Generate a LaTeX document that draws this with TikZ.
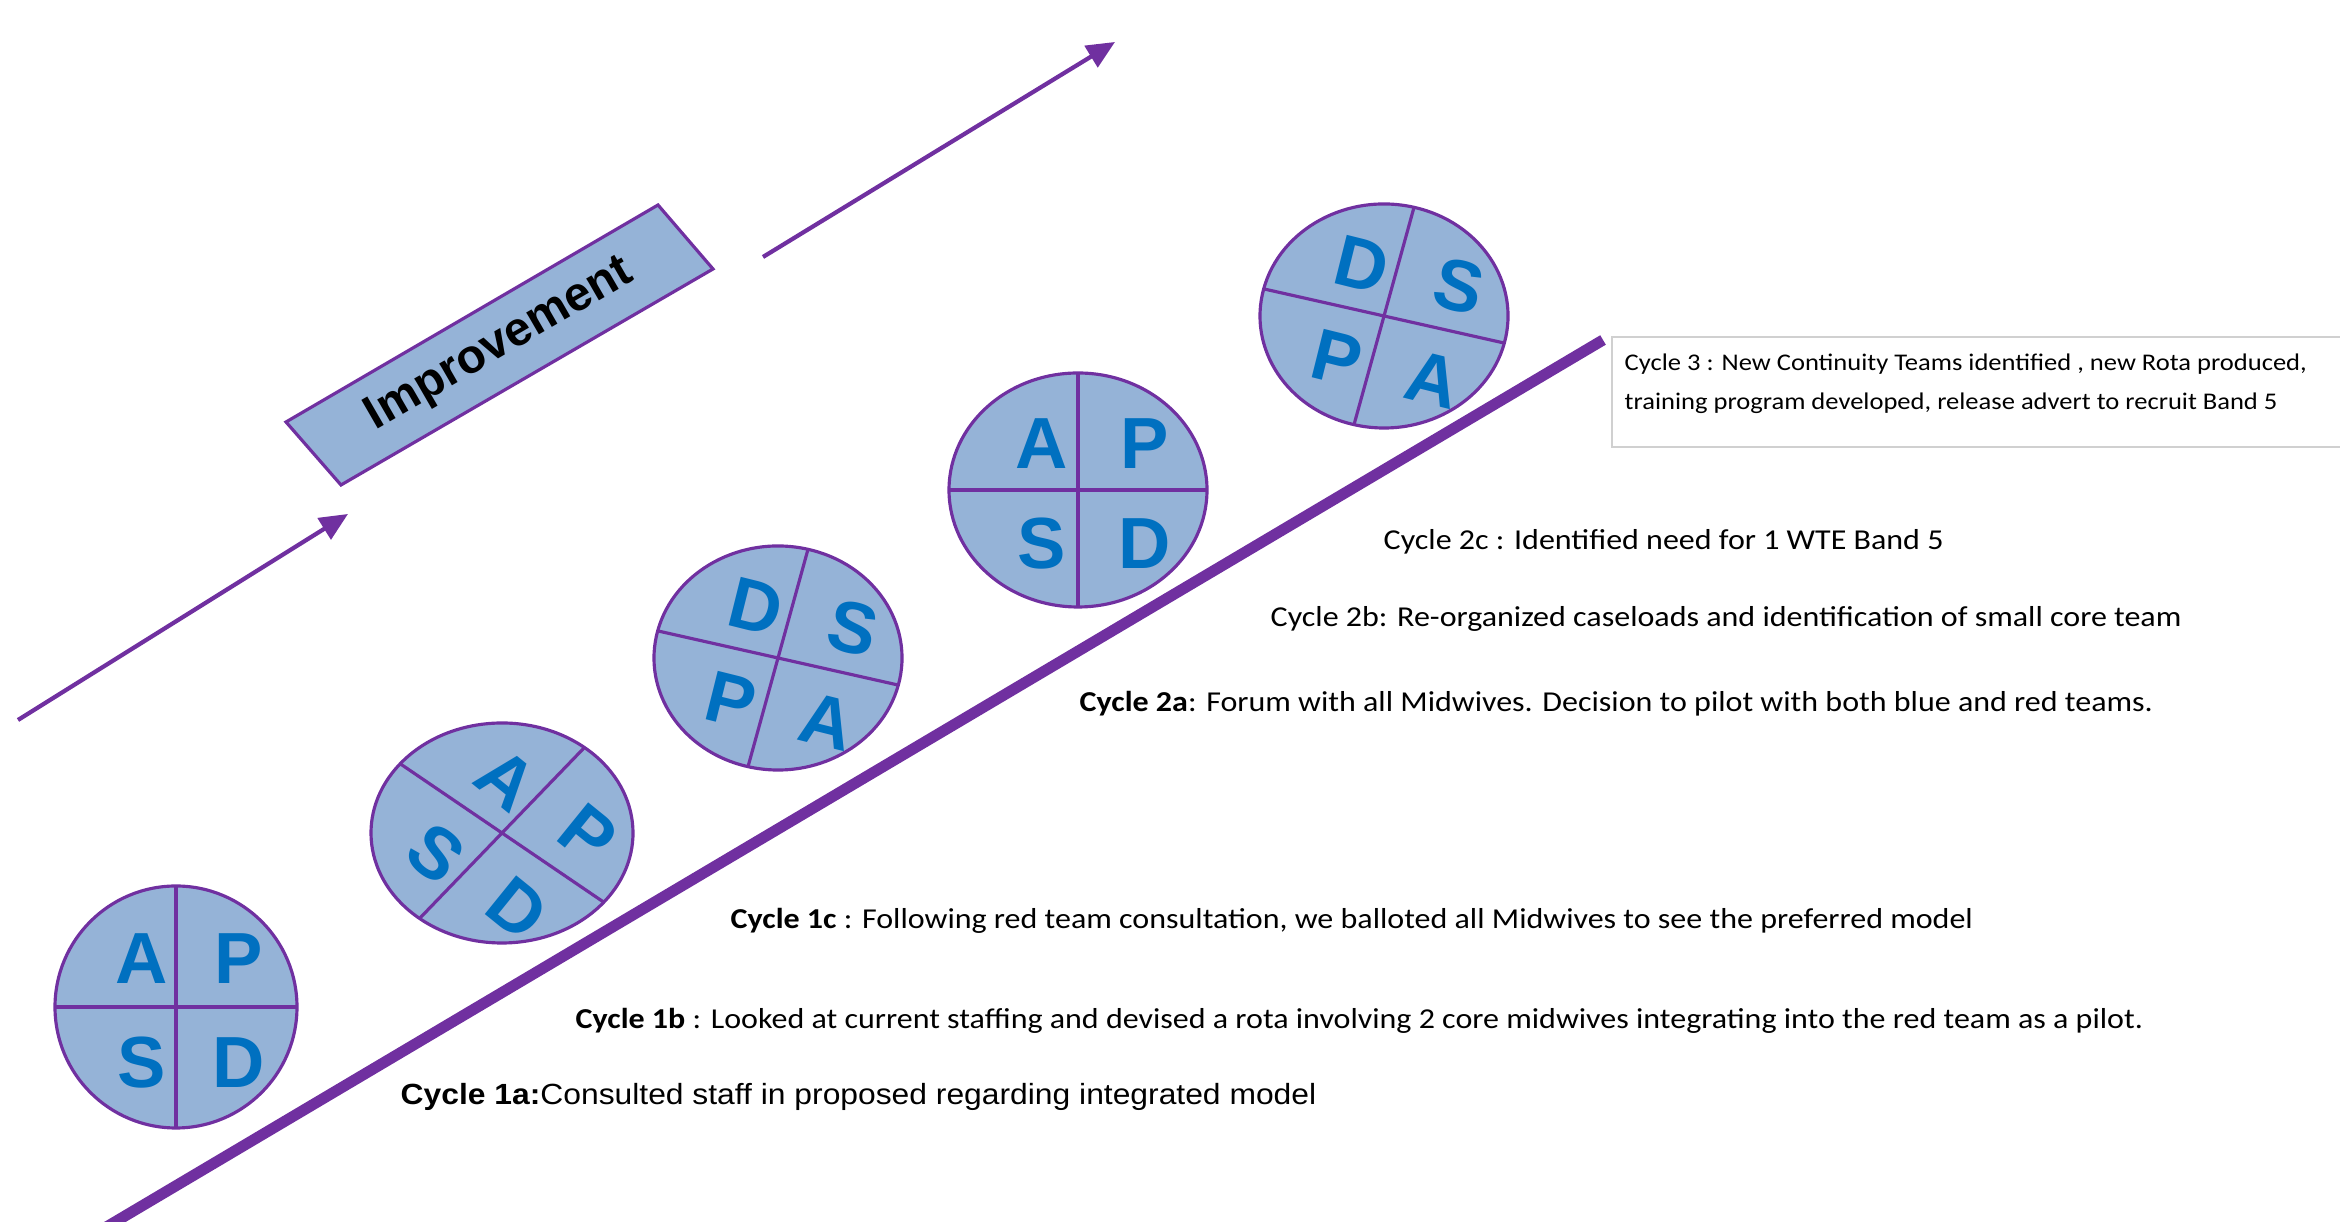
\documentclass[tikz,border=0pt]{standalone}
\usepackage{fontspec}
\setmainfont{Carlito}[FakeStretch=1.11]
\newfontfamily\arialfont{Liberation Sans}
\newfontfamily\arialwide{Liberation Sans}[FakeStretch=1.09]
\usetikzlibrary{arrows.meta}
\definecolor{pdsapurple}{HTML}{7030A0}
\definecolor{pdsafill}{HTML}{95B3D7}
\definecolor{pdsablue}{HTML}{0070C0}
\definecolor{boxgray}{HTML}{D0D0D0}
\tikzset{
  wheel/.style={draw=pdsapurple,line width=0.9pt},
  letter/.style={text=pdsablue,inner sep=0pt,font=\arialfont\bfseries\fontsize{20.6}{20.6}\selectfont},
  cyclenote/.style={anchor=west,inner sep=0pt,font=\fontsize{8.2}{9.8}\selectfont},
  trend/.style={draw=pdsapurple,line width=1.2pt,-{Triangle[length=8pt,width=7pt]}}
}
\newcommand{\pdsawheel}[9]{%
  \begin{scope}[shift={#2},xscale=#3,yscale=#4,rotate=#5]
    \filldraw[wheel,fill=pdsafill] (0,0) circle (1);
    \draw[wheel] (0,-1) -- (0,1) (-1,0) -- (1,0);
    \coordinate (#1) at (0,0);
    \node[letter,rotate=#5] (#1-ul) at (-0.28,0.4) {#6};
    \node[letter,rotate=#5] (#1-ur) at (0.52,0.4) {#7};
    \node[letter,rotate=#5] (#1-ll) at (-0.28,-0.46) {#8};
    \node[letter,rotate=#5] (#1-lr) at (0.52,-0.46) {#9};
  \end{scope}}

\begin{document}
\begin{tikzpicture}[x=0.01cm,y=0.01cm]
  \useasboundingbox (0,0) rectangle (2340,1222);
  \draw[pdsapurple,line width=0.11cm] (98,-10) -- (1603,882);
  \coordinate (rise1s) at (18,502);
  \coordinate (rise1e) at (348,708);
  \coordinate (rise2s) at (763,965);
  \coordinate (rise2e) at (1115,1180);
  \draw[trend] (rise1s) -- (rise1e);
  \draw[trend] (rise2s) -- (rise2e);
  \filldraw[wheel,fill=pdsafill] (286,800) -- (341,737) -- (713,953) -- (658,1017) -- cycle;
  \node[rotate=30,inner sep=0pt,font=\arialfont\bfseries\fontsize{13.6}{13.6}\selectfont] (improve) at (500,877) {Improvement};
  \pdsawheel{cycle1}{(176,215)}{121}{121}{0}{A}{P}{S}{D}
  \pdsawheel{cycle2}{(502,389)}{131}{110}{-39}{A}{P}{S}{D}
  \pdsawheel{cycle3}{(778,564)}{124}{112}{-14}{D}{S}{P}{A}
  \pdsawheel{cycle4}{(1078,732)}{129}{117}{0}{A}{P}{S}{D}
  \pdsawheel{cycle5}{(1384,906)}{124}{112}{-14}{D}{S}{P}{A}
  \draw[boxgray,line width=0.8pt] (1612,775) rectangle (2360,885);
  \node[cyclenote,align=left,font=\fontsize{6.8}{11.1}\selectfont] (note3) at (1624,838)
    {Cycle 3 : New Continuity Teams identified , new Rota produced,\\training program developed, release advert to recruit Band 5};
  \node[cyclenote] (note2c) at (1383,680) {Cycle 2c : Identified need for 1 WTE Band 5};
  \node[cyclenote] (note2b) at (1270,603) {Cycle 2b: Re-organized caseloads and identification of small core team};
  \node[cyclenote] (note2a) at (1079,518) {\textbf{Cycle 2a}: Forum with all Midwives. Decision to pilot with both blue and red teams.};
  \node[cyclenote] (note1c) at (730,301) {\textbf{Cycle 1c} : Following red team consultation, we balloted all Midwives to see the preferred model};
  \node[cyclenote] (note1b) at (575,201) {\textbf{Cycle 1b} : Looked at current staffing and devised a rota involving 2 core midwives integrating into the red team as a pilot.};
  \node[cyclenote,font=\arialwide\fontsize{8.3}{10}\selectfont] (note1a) at (400,125) {\textbf{Cycle 1a:}Consulted staff in proposed regarding integrated model};
\end{tikzpicture}
\end{document}
